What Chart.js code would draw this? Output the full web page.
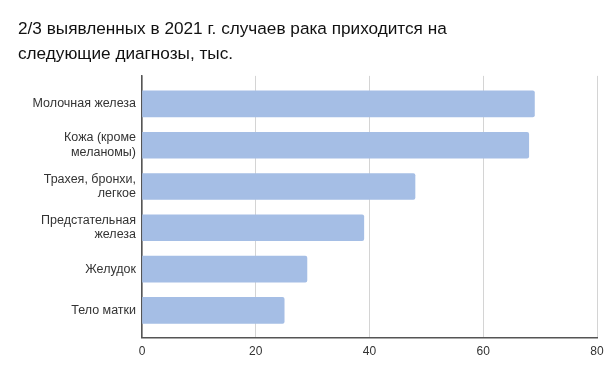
<!DOCTYPE html>
<html lang="ru">
<head>
    <meta charset="UTF-8">
    <title>Диагнозы рака 2021</title>
    <script src="https://cdn.jsdelivr.net/npm/chart.js"></script>
    <style>
        html, body { margin: 0; padding: 0; background: #fff; }
        #wrap { width: 616px; height: 371px; }
    </style>
</head>
<body>
    <div id="wrap"><canvas id="chart"></canvas></div>

    <script>
        // данные, тыс. случаев
        const titleLines = ['2/3 выявленных в 2021 г. случаев рака приходится на', 'следующие диагнозы, тыс.'];
        const categories = [
            ['Молочная железа'],
            ['Кожа (кроме', 'меланомы)'],
            ['Трахея, бронхи,', 'легкое'],
            ['Предстательная', 'железа'],
            ['Желудок'],
            ['Тело матки']
        ];
        const cases = [69, 68, 48, 39, 29, 25];
        const xTicks = [0, 20, 40, 60, 80];

        const font = 'Liberation Sans, Arial, sans-serif';

        // index axis is linear so the empty margin above/below the bars can be set exactly
        const points = cases.map((v, i) => ({ x: v, y: i }));

        new Chart(document.getElementById('chart'), {
            type: 'bar',
            data: {
                datasets: [{
                    data: points,
                    backgroundColor: '#a5bee5',
                    borderRadius: 2,
                    barThickness: 26
                }]
            },
            options: {
                indexAxis: 'y',
                responsive: true,
                maintainAspectRatio: false,
                animation: false,
                layout: { padding: { left: 18, right: 19, top: 17, bottom: 5 } },
                plugins: {
                    legend: { display: false },
                    tooltip: { enabled: false },
                    title: {
                        display: true,
                        text: titleLines,
                        align: 'start',
                        color: '#111',
                        font: { family: font, size: 17.2, weight: 'normal', lineHeight: 1.45 },
                        padding: { top: 0, bottom: 9 }
                    }
                },
                scales: {
                    x: {
                        type: 'linear',
                        min: xTicks[0],
                        max: xTicks[xTicks.length - 1],
                        afterBuildTicks: s => { s.ticks = xTicks.map(v => ({ value: v })); },
                        grid: { color: '#d4d4d4', drawTicks: false },
                        border: { color: '#555', width: 1.5 },
                        ticks: { color: '#333', padding: 7, font: { family: font, size: 12 } }
                    },
                    y: {
                        type: 'linear',
                        offset: false,
                        reverse: true,
                        min: -0.68,
                        max: categories.length - 1 + 0.66,
                        afterBuildTicks: s => { s.ticks = categories.map((c, i) => ({ value: i })); },
                        afterFit: s => { s.width = 124; },
                        grid: { display: false, drawTicks: false },
                        border: { color: '#555', width: 1.5 },
                        ticks: {
                            autoSkip: false,
                            color: '#333',
                            padding: 6,
                            font: { family: font, size: 12.5, lineHeight: 1.15 },
                            callback: v => categories[v]
                        }
                    }
                }
            }
        });
    </script>
</body>
</html>
